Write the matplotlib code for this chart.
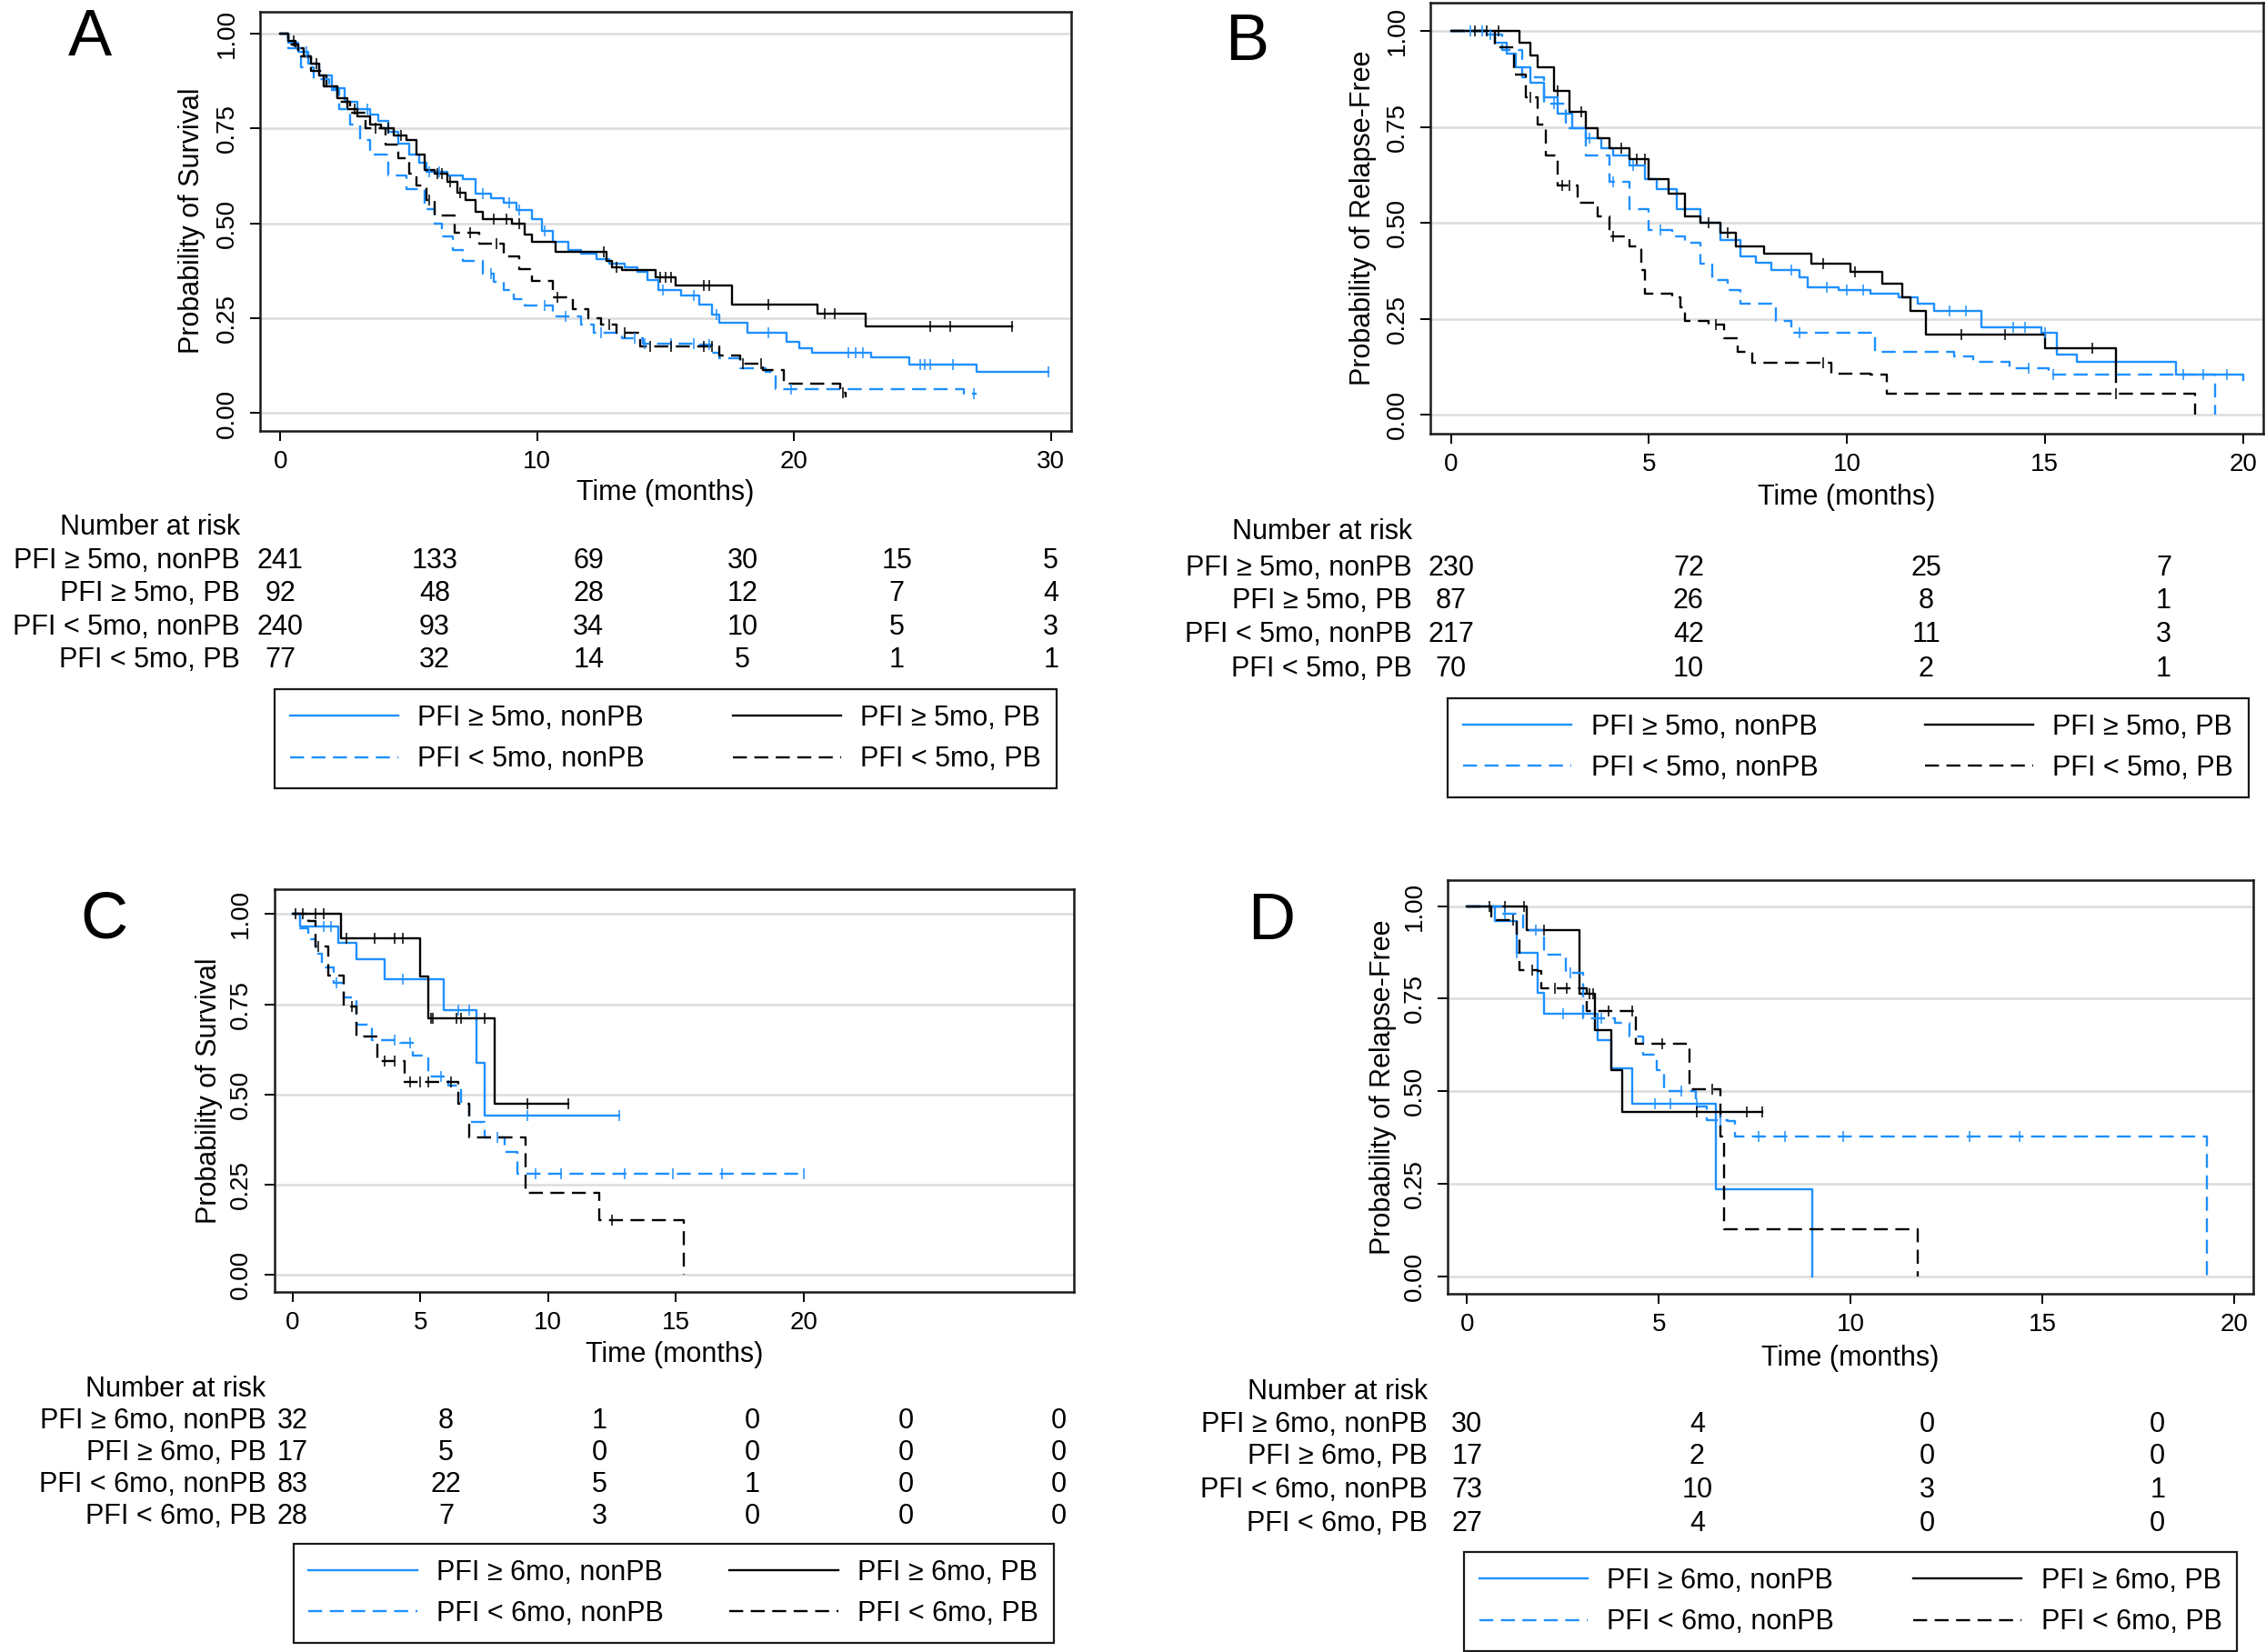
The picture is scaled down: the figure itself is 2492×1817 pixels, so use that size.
import numpy as np
import matplotlib.pyplot as plt
from matplotlib.lines import Line2D
from matplotlib.transforms import blended_transform_factory

plt.rcParams['font.family'] = ['Liberation Sans', 'DejaVu Sans']

BLUE = '#1E90FF'

# ---------------- panel A : survival, PFI cut 5 mo ----------------
a_hi_nonpb_t = [0, 0.3, 0.7, 1.1, 1.5, 2.0, 2.5, 3.0, 3.5, 3.8, 4.2, 4.6, 5.0, 5.4, 5.7, 6.5, 7.1, 7.6, 8.2, 8.7,
                9.2, 9.8, 10.2, 10.6, 11.2, 11.7, 12.3, 12.8, 13.4, 13.9, 14.3, 14.7, 15.6, 16.3, 16.8, 17.1, 18.2,
                19.7, 20.2, 20.7, 23.0, 24.5, 27.1, 29.9]
a_hi_nonpb_s = [1, 0.975, 0.95, 0.92, 0.89, 0.855, 0.82, 0.80, 0.785, 0.77, 0.74, 0.71, 0.68, 0.66, 0.635, 0.625,
                0.615, 0.577, 0.565, 0.555, 0.535, 0.51, 0.48, 0.452, 0.43, 0.42, 0.405, 0.394, 0.385, 0.372, 0.35,
                0.323, 0.31, 0.287, 0.26, 0.238, 0.211, 0.189, 0.17, 0.158, 0.146, 0.128, 0.109, 0.109]
a_hi_nonpb_c = [1.0, 3.4, 5.8, 6.2, 7.9, 8.9, 9.3, 10.3, 14.9, 16.1, 17.0, 19.0, 22.1, 22.4, 22.7, 24.9, 25.1, 25.3,
                26.2, 29.9]

a_hi_pb_t = [0, 0.3, 0.6, 0.9, 1.2, 1.5, 1.8, 2.2, 2.6, 3.0, 3.5, 3.9, 4.4, 4.9, 5.3, 5.6, 6.0, 6.5, 6.9, 7.2, 7.6,
             7.9, 9.0, 9.5, 9.8, 10.7, 12.7, 12.9, 13.3, 14.6, 15.4, 17.6, 20.9, 22.8, 28.5]
a_hi_pb_s = [1, 0.98, 0.96, 0.94, 0.92, 0.89, 0.86, 0.83, 0.80, 0.78, 0.76, 0.75, 0.73, 0.72, 0.68, 0.64, 0.63, 0.61,
             0.58, 0.56, 0.53, 0.51, 0.50, 0.47, 0.45, 0.425, 0.40, 0.385, 0.376, 0.358, 0.336, 0.287, 0.262, 0.229,
             0.229]
a_hi_pb_c = [0.5, 1.4, 2.9, 4.2, 4.7, 6.1, 6.3, 6.6, 7.0, 8.3, 8.8, 9.3, 12.6, 13.1, 14.8, 15.0, 15.2, 16.5, 16.7,
             19.0, 21.2, 21.6, 25.3, 26.1, 28.5]

a_lo_nonpb_t = [0, 0.3, 0.8, 1.3, 1.9, 2.3, 2.7, 3.1, 3.5, 4.2, 4.9, 5.6, 6.0, 6.3, 6.7, 7.1, 7.9, 8.3, 8.7, 9.1,
                9.5, 10.6, 11.7, 12.2, 13.3, 14.1, 16.3, 16.8, 17.1, 17.9, 18.9, 19.3, 26.6, 27.1]
a_lo_nonpb_s = [1, 0.96, 0.91, 0.88, 0.85, 0.80, 0.76, 0.72, 0.68, 0.625, 0.59, 0.537, 0.50, 0.465, 0.43, 0.40,
                0.367, 0.345, 0.323, 0.30, 0.283, 0.256, 0.233, 0.211, 0.198, 0.184, 0.18, 0.16, 0.144, 0.118,
                0.11, 0.064, 0.051, 0.051]
a_lo_nonpb_c = [8.2, 10.3, 11.1, 12.5, 13.8, 14.2, 15.2, 16.1, 16.7, 19.9, 27.0]

a_lo_pb_t = [0, 0.3, 0.7, 1.2, 1.7, 2.2, 2.7, 3.3, 4.1, 4.6, 5.0, 5.3, 5.7, 6.0, 6.8, 7.75, 8.7, 9.3, 9.8, 10.6,
             11.4, 12.0, 12.5, 13.1, 14.0, 17.1, 17.9, 18.8, 19.6, 21.8, 22.0]
a_lo_pb_s = [1, 0.97, 0.94, 0.90, 0.86, 0.82, 0.79, 0.75, 0.706, 0.67, 0.63, 0.60, 0.56, 0.52, 0.474, 0.447, 0.412,
             0.38, 0.349, 0.305, 0.274, 0.25, 0.234, 0.211, 0.176, 0.153, 0.131, 0.113, 0.078, 0.055, 0.042]
a_lo_pb_c = [3.7, 5.8, 7.4, 8.4, 10.8, 12.8, 13.4, 14.4, 15.2, 16.5, 16.8, 18.0, 18.7, 21.9]

# ---------------- panel B : relapse-free, PFI cut 5 mo ----------------
b_hi_nonpb_t = [0, 0.9, 1.1, 1.4, 1.64, 2.0, 2.35, 2.7, 3.07, 3.4, 3.8, 4.1, 4.5, 4.9, 5.2, 5.7, 6.3, 6.8, 7.3, 7.7,
                8.1, 8.8, 9.0, 9.8, 10.6, 11.3, 11.8, 12.2, 13.4, 14.9, 15.3, 15.8, 18.3, 20.0, 20.0]
b_hi_nonpb_s = [1, 0.99, 0.97, 0.94, 0.905, 0.865, 0.826, 0.785, 0.746, 0.72, 0.694, 0.675, 0.65, 0.615, 0.588,
                0.535, 0.50, 0.456, 0.412, 0.395, 0.377, 0.359, 0.333, 0.324, 0.315, 0.306, 0.289, 0.271, 0.227,
                0.214, 0.157, 0.139, 0.104, 0.104, 0.09]
b_hi_nonpb_c = [0.5, 0.8, 1.0, 3.5, 4.6, 8.6, 9.5, 10.0, 10.4, 12.6, 13.0, 14.2, 14.5, 15.0, 18.5, 19.0, 19.6]

b_hi_pb_t = [0, 1.73, 2.0, 2.2, 2.6, 3.0, 3.4, 3.7, 4.0, 4.5, 5.0, 5.5, 5.9, 6.3, 6.8, 7.2, 7.9, 9.1, 10.1, 10.9,
             11.4, 11.6, 12.0, 15.0, 16.8]
b_hi_pb_s = [1, 0.97, 0.935, 0.905, 0.843, 0.79, 0.746, 0.72, 0.694, 0.667, 0.614, 0.575, 0.518, 0.50, 0.474, 0.438,
             0.42, 0.394, 0.372, 0.342, 0.306, 0.271, 0.21, 0.174, 0.086]
b_hi_pb_c = [0.6, 0.9, 1.2, 2.7, 3.3, 4.3, 4.7, 4.9, 6.5, 7.0, 9.4, 10.2, 12.9, 14.0, 16.2]

b_lo_nonpb_t = [0, 1.0, 1.3, 1.8, 2.35, 2.9, 3.4, 4.0, 4.5, 5.0, 5.6, 5.9, 6.3, 6.6, 7.0, 7.3, 8.1, 8.2, 8.6, 10.7,
                12.7, 13.2, 14.1, 15.1, 19.3]
b_lo_nonpb_s = [1, 0.99, 0.95, 0.88, 0.81, 0.746, 0.676, 0.606, 0.535, 0.482, 0.465, 0.447, 0.394, 0.35, 0.324,
                0.289, 0.28, 0.245, 0.214, 0.165, 0.152, 0.139, 0.121, 0.104, 0.0]
b_lo_nonpb_c = [2.6, 4.1, 5.3, 8.8, 14.6, 15.2]

b_lo_pb_t = [0, 1.1, 1.6, 1.9, 2.2, 2.4, 2.7, 3.2, 3.7, 4.0, 4.5, 4.8, 4.9, 5.6, 5.8, 5.9, 6.5, 6.9, 7.25, 7.6, 9.6,
             10.6, 11.0, 18.8]
b_lo_pb_s = [1, 0.958, 0.887, 0.826, 0.755, 0.676, 0.597, 0.553, 0.518, 0.465, 0.438, 0.377, 0.315, 0.306, 0.28,
             0.245, 0.236, 0.20, 0.165, 0.135, 0.108, 0.104, 0.055, 0.0]
b_lo_pb_c = [2.0, 2.8, 3.0, 4.1, 6.7, 9.4, 16.8]

# ---------------- panel C : survival, PFI cut 6 mo ----------------
c_hi_nonpb_t = [0, 0.3, 1.8, 2.5, 3.6, 5.9, 7.2, 7.5, 12.8]
c_hi_nonpb_s = [1, 0.967, 0.92, 0.874, 0.819, 0.735, 0.588, 0.441, 0.441]
c_hi_nonpb_c = [1.2, 1.5, 4.3, 6.5, 6.9, 9.2, 12.8]

c_hi_pb_t = [0, 1.9, 5.0, 5.3, 7.9, 10.8]
c_hi_pb_s = [1, 0.933, 0.828, 0.71, 0.475, 0.475]
c_hi_pb_c = [0.1, 0.4, 0.9, 1.2, 2.1, 3.2, 4.0, 4.3, 5.4, 5.5, 6.4, 6.6, 7.5, 9.2, 10.8]

c_lo_nonpb_t = [0, 0.3, 0.6, 0.9, 1.15, 1.6, 2.0, 2.5, 3.1, 4.2, 4.7, 5.3, 6.1, 6.6, 6.9, 7.5, 8.3, 8.8, 20.0]
c_lo_nonpb_s = [1, 0.96, 0.93, 0.89, 0.853, 0.81, 0.768, 0.693, 0.651, 0.643, 0.609, 0.55, 0.525, 0.475, 0.424,
                0.382, 0.34, 0.28, 0.28]
c_lo_nonpb_c = [1.7, 4.0, 4.6, 5.8, 8.0, 9.5, 10.5, 13.0, 14.9, 16.8, 20.0]

c_lo_pb_t = [0, 0.6, 0.9, 1.4, 2.0, 2.5, 3.3, 4.4, 6.5, 6.9, 9.1, 12.0, 15.3]
c_lo_pb_s = [1, 0.98, 0.91, 0.83, 0.744, 0.66, 0.592, 0.534, 0.475, 0.382, 0.227, 0.151, 0.0]
c_lo_pb_c = [1.0, 2.3, 3.6, 4.0, 4.6, 5.0, 5.3, 6.2, 12.5]

# ---------------- panel D : relapse-free, PFI cut 6 mo ----------------
d_hi_nonpb_t = [0, 0.74, 1.29, 1.84, 2.0, 3.4, 3.77, 4.32, 6.5, 9.0]
d_hi_nonpb_s = [1, 0.959, 0.873, 0.766, 0.709, 0.639, 0.561, 0.467, 0.234, 0.0]
d_hi_nonpb_c = [1.3, 2.5, 4.9, 5.3, 6.0]

d_hi_pb_t = [0, 1.56, 2.94, 3.35, 3.77, 4.04, 7.7]
d_hi_pb_s = [1, 0.936, 0.762, 0.664, 0.557, 0.444, 0.444]
d_hi_pb_c = [0.6, 1.0, 1.5, 2.0, 3.2, 3.3, 6.0, 7.3, 7.7]

d_lo_nonpb_t = [0, 0.9, 1.47, 2.0, 2.57, 3.03, 3.86, 4.23, 4.6, 4.96, 5.15, 5.97, 6.25, 6.8, 6.99, 19.3]
d_lo_nonpb_s = [1, 0.98, 0.934, 0.869, 0.82, 0.697, 0.684, 0.648, 0.598, 0.557, 0.50, 0.459, 0.422, 0.418, 0.377, 0.0]
d_lo_nonpb_c = [1.0, 1.8, 2.7, 3.5, 5.6, 6.6, 7.6, 8.3, 9.8, 13.1, 14.4]

d_lo_pb_t = [0, 0.64, 1.29, 1.38, 1.84, 1.93, 3.13, 4.4, 5.8, 6.6, 6.7, 11.76]
d_lo_pb_s = [1, 0.963, 0.926, 0.828, 0.824, 0.779, 0.717, 0.627, 0.504, 0.377, 0.127, 0.0]
d_lo_pb_c = [1.2, 1.7, 2.3, 2.6, 3.7, 4.3, 5.1, 6.4]

# ---------------- numbers at risk ----------------
risk_times_30 = [0, 6, 12, 18, 24, 30]
risk_times_20 = [0, 6, 12, 18]
a_risk = [[241, 133, 69, 30, 15, 5], [92, 48, 28, 12, 7, 4], [240, 93, 34, 10, 5, 3], [77, 32, 14, 5, 1, 1]]
b_risk = [[230, 72, 25, 7], [87, 26, 8, 1], [217, 42, 11, 3], [70, 10, 2, 1]]
c_risk = [[32, 8, 1, 0, 0, 0], [17, 5, 0, 0, 0, 0], [83, 22, 5, 1, 0, 0], [28, 7, 3, 0, 0, 0]]
d_risk = [[30, 4, 0, 0], [17, 2, 0, 0], [73, 10, 3, 1], [27, 4, 0, 0]]

labels_5 = ['PFI \u2265 5mo, nonPB', 'PFI \u2265 5mo, PB', 'PFI < 5mo, nonPB', 'PFI < 5mo, PB']
labels_6 = ['PFI \u2265 6mo, nonPB', 'PFI \u2265 6mo, PB', 'PFI < 6mo, nonPB', 'PFI < 6mo, PB']

# layout is measured in the 1568x1143 preview, converted to figure fraction
W, H = 1568.0, 1143.0
def fx(x):
    return x / W
def fy(y):
    return 1 - y / H

fig = plt.figure(figsize=(24.92, 18.17), dpi=100)

DASH = (0, (6.5, 3.5))
styles = [dict(color=BLUE, ls='-'), dict(color='black', ls='-'),
          dict(color=BLUE, ls=DASH), dict(color='black', ls=DASH)]

panels = [
    dict(letter='A', letter_xy=(62, 27), box=(180, 8, 741, 298), xlim=(-0.79, 30.78), ylim=(-0.046, 1.057),
         xticks=[0, 10, 20, 30], ylabel='Probability of Survival', ylab_x=133, xlab_y=341,
         curves=[(a_hi_nonpb_t, a_hi_nonpb_s, a_hi_nonpb_c), (a_hi_pb_t, a_hi_pb_s, a_hi_pb_c),
                 (a_lo_nonpb_t, a_lo_nonpb_s, a_lo_nonpb_c), (a_lo_pb_t, a_lo_pb_s, a_lo_pb_c)],
         risk=a_risk, rtimes=risk_times_30, labels=labels_5, lab_right=166, nar_y=365,
         rows_y=[388, 411, 434, 457], leg=(190, 477, 731, 544)),
    dict(letter='B', letter_xy=(863, 30), box=(990, 2, 1566, 300), xlim=(-0.51, 20.51), ylim=(-0.049, 1.073),
         xticks=[0, 5, 10, 15, 20], ylabel='Probability of Relapse-Free', ylab_x=943, xlab_y=344,
         curves=[(b_hi_nonpb_t, b_hi_nonpb_s, b_hi_nonpb_c), (b_hi_pb_t, b_hi_pb_s, b_hi_pb_c),
                 (b_lo_nonpb_t, b_lo_nonpb_s, b_lo_nonpb_c), (b_lo_pb_t, b_lo_pb_s, b_lo_pb_c)],
         risk=b_risk, rtimes=risk_times_20, labels=labels_5, lab_right=977, nar_y=368,
         rows_y=[393, 416, 439, 463], leg=(1002, 483, 1556, 552)),
    dict(letter='C', letter_xy=(72, 637), box=(190, 615, 743, 894), xlim=(-0.71, 30.58), ylim=(-0.048, 1.07),
         xticks=[0, 5, 10, 15, 20], ylabel='Probability of Survival', ylab_x=145, xlab_y=937,
         curves=[(c_hi_nonpb_t, c_hi_nonpb_s, c_hi_nonpb_c), (c_hi_pb_t, c_hi_pb_s, c_hi_pb_c),
                 (c_lo_nonpb_t, c_lo_nonpb_s, c_lo_nonpb_c), (c_lo_pb_t, c_lo_pb_s, c_lo_pb_c)],
         risk=c_risk, rtimes=risk_times_30, labels=labels_6, lab_right=184, nar_y=961,
         rows_y=[983, 1005, 1027, 1049], leg=(203, 1068, 729, 1134)),
    dict(letter='D', letter_xy=(880, 638), box=(1002, 609, 1559, 895), xlim=(-0.49, 20.49), ylim=(-0.047, 1.07),
         xticks=[0, 5, 10, 15, 20], ylabel='Probability of Relapse-Free', ylab_x=957, xlab_y=940,
         curves=[(d_hi_nonpb_t, d_hi_nonpb_s, d_hi_nonpb_c), (d_hi_pb_t, d_hi_pb_s, d_hi_pb_c),
                 (d_lo_nonpb_t, d_lo_nonpb_s, d_lo_nonpb_c), (d_lo_pb_t, d_lo_pb_s, d_lo_pb_c)],
         risk=d_risk, rtimes=risk_times_20, labels=labels_6, lab_right=988, nar_y=963,
         rows_y=[986, 1008, 1031, 1054], leg=(1013, 1074, 1548, 1140)),
]

for p in panels:
    l, t, r, b = p['box']
    ax = fig.add_axes([fx(l), fy(b), fx(r) - fx(l), fy(t) - fy(b)])
    ax.set_xlim(*p['xlim'])
    ax.set_ylim(*p['ylim'])
    ax.set_xticks(p['xticks'])
    ax.set_yticks([0, 0.25, 0.5, 0.75, 1.0])
    ax.set_yticklabels(['0.00', '0.25', '0.50', '0.75', '1.00'], rotation=90, va='center')
    for y in [0, 0.25, 0.5, 0.75, 1.0]:
        ax.axhline(y, color='#dcdcdc', lw=1.8, zorder=0)
    for sp in ax.spines.values():
        sp.set_linewidth(1.8)
        sp.set_color('#1a1a1a')
    ax.tick_params(direction='out', length=8, width=1.4, labelsize=20)
    ax.tick_params(axis='x', pad=7)
    ax.tick_params(axis='y', pad=9)

    # step curves + censor marks
    for (tt, ss, cc), st in zip(p['curves'], styles):
        tt = np.array(tt)
        ss = np.array(ss)
        ax.step(tt, ss, where='post', color=st['color'], ls=st['ls'], lw=1.7, zorder=3)
        idx = np.searchsorted(tt, cc, side='right') - 1
        ax.plot(cc, ss[idx], ls='none', marker='|', ms=8, mew=1.1, color=st['color'], zorder=4)

    ax.set_ylabel(p['ylabel'], fontsize=22, va='center')
    ax.yaxis.set_label_coords(fx(p['ylab_x']), 0.5 * (fy(t) + fy(b)), transform=fig.transFigure)
    ax.set_xlabel('Time (months)', fontsize=22, va='center')
    ax.xaxis.set_label_coords(0.5 * (fx(l) + fx(r)), fy(p['xlab_y']), transform=fig.transFigure)

    fig.text(fx(p['letter_xy'][0]), fy(p['letter_xy'][1]), p['letter'], fontsize=52,
             ha='center', va='center')

    # number at risk table
    tr = blended_transform_factory(ax.transData, fig.transFigure)
    fig.text(fx(p['lab_right']), fy(p['nar_y']), 'Number at risk', fontsize=22, ha='right', va='center')
    for lab, row, yy in zip(p['labels'], p['risk'], p['rows_y']):
        fig.text(fx(p['lab_right']), fy(yy), lab, fontsize=22, ha='right', va='center')
        for tm, n in zip(p['rtimes'], row):
            ax.text(tm, fy(yy), str(n), transform=tr, fontsize=22, ha='center', va='center', clip_on=False)

    # legend box
    handles = [Line2D([], [], color=st['color'], ls=st['ls'], lw=1.7) for st in styles]
    order = [0, 2, 1, 3]
    ll, lt, lr, lb = p['leg']
    leg = ax.legend([handles[i] for i in order], [p['labels'][i] for i in order], ncol=2,
                    loc='upper left', bbox_to_anchor=(fx(ll), fy(lb), fx(lr) - fx(ll), fy(lt) - fy(lb)),
                    bbox_transform=fig.transFigure, mode='expand', borderaxespad=0, fontsize=22,
                    handlelength=3.9, handletextpad=0.7, borderpad=0.55, labelspacing=0.5,
                    fancybox=False, framealpha=1, edgecolor='#1a1a1a')
    leg.get_frame().set_linewidth(1.6)

fig.savefig('out.png', dpi=100)
